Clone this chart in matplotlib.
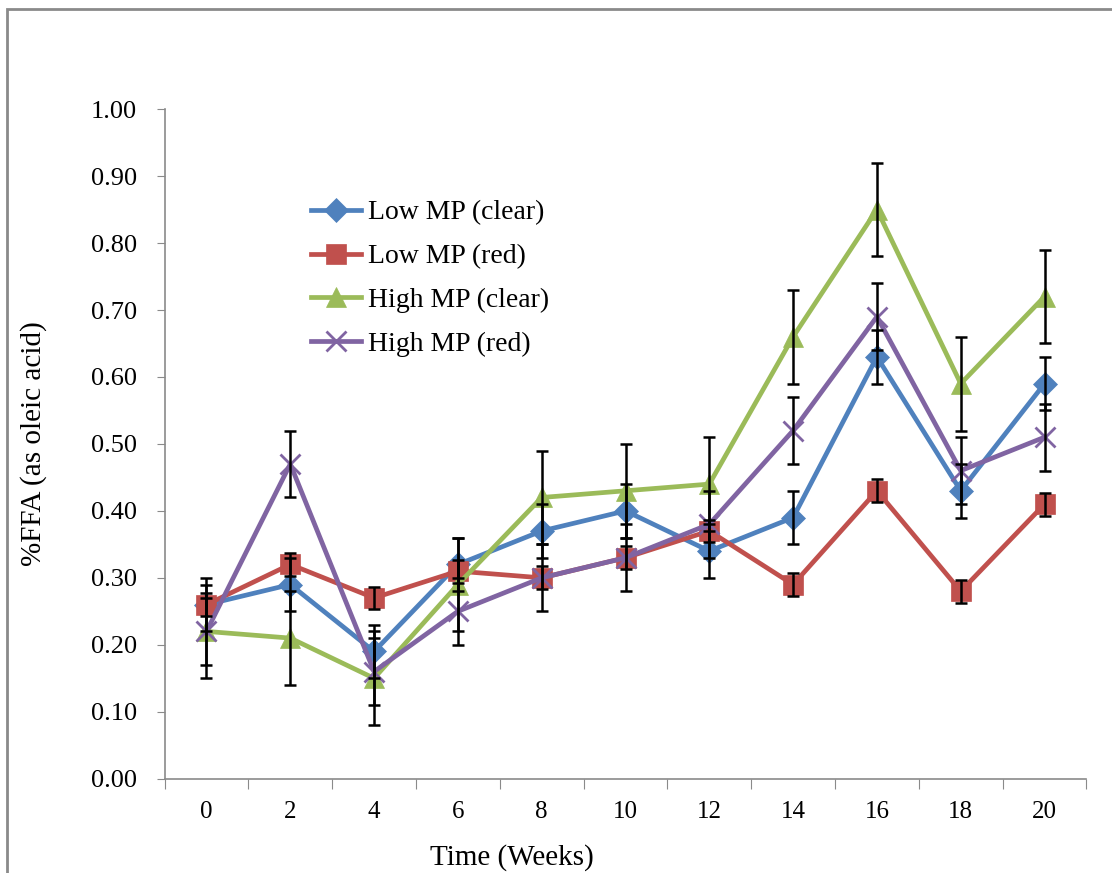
import matplotlib.pyplot as plt
import matplotlib.patches as patches
import numpy as np

weeks = [0, 2, 4, 6, 8, 10, 12, 14, 16, 18, 20]

low_clear = [0.26, 0.29, 0.19, 0.32, 0.37, 0.40, 0.34, 0.39, 0.63, 0.43, 0.59]
low_red = [0.26, 0.32, 0.27, 0.31, 0.30, 0.33, 0.37, 0.29, 0.43, 0.28, 0.41]
high_clear = [0.22, 0.21, 0.15, 0.29, 0.42, 0.43, 0.44, 0.66, 0.85, 0.59, 0.72]
high_red = [0.22, 0.47, 0.16, 0.25, 0.30, 0.33, 0.38, 0.52, 0.69, 0.46, 0.51]

err_low_clear = [0.04] * 11
err_low_red = [0.017] * 11
err_high_clear = [0.07] * 11
err_high_red = [0.05] * 11

labels = ["Low MP (clear)", "Low MP (red)", "High MP (clear)", "High MP (red)"]

plt.rcParams['font.family'] = ['Liberation Serif', 'DejaVu Serif']

fig = plt.figure(figsize=(11.12, 8.73), dpi=100)
ax = fig.add_axes([0.148, 0.108, 0.829, 0.767])

# gray frame around the chart
fig.patches.append(patches.Rectangle((7 / 1112, -0.05), 1.2, 1 - 9 / 873 + 0.05,
                                     transform=fig.transFigure, fill=False,
                                     edgecolor='#8a8a8a', linewidth=2))

x = np.arange(len(weeks))
series = [
    (low_clear, err_low_clear, '#4F81BD', 'D', 12),
    (low_red, err_low_red, '#C0504D', 's', 14),
    (high_clear, err_high_clear, '#9BBB59', '^', 15),
    (high_red, err_high_red, '#8064A2', 'x', 14),
]

handles = []
for (vals, err, col, mk, ms), lab in zip(series, labels):
    ln, = ax.plot(x, vals, color=col, linewidth=3.4, marker=mk, markersize=ms,
                  markeredgewidth=2 if mk == 'x' else 0.5, markeredgecolor=col,
                  label=lab, zorder=2)
    handles.append(ln)
for vals, err, col, mk, ms in series:
    ax.errorbar(x, vals, yerr=err, fmt='none', ecolor='black', elinewidth=1.8,
                capsize=4.5, capthick=1.8, zorder=3)

ax.set_xlim(-0.5, len(weeks) - 0.5)
ax.set_ylim(0, 1.0)
ax.set_yticks(np.arange(0, 1.01, 0.1))
ax.set_yticklabels([f"{v:.2f}" for v in np.arange(0, 1.01, 0.1)])
ax.set_xticks(np.arange(-0.5, len(weeks), 1.0))
ax.set_xticklabels([])
ax.set_xticks(x, minor=True)
ax.set_xticklabels([str(w) for w in weeks], minor=True)

for s in ['top', 'right']:
    ax.spines[s].set_visible(False)
for s in ['left', 'bottom']:
    ax.spines[s].set_color('#8a8a8a')
    ax.spines[s].set_linewidth(1.2)

ax.tick_params(axis='y', which='major', direction='out', length=6, color='#8a8a8a',
               labelsize=19, pad=14)
ax.tick_params(axis='x', which='major', direction='out', length=7, color='#8a8a8a')
ax.tick_params(axis='x', which='minor', length=0, labelsize=18, pad=16)

ax.set_ylabel("%FFA (as oleic acid)", fontsize=21)
ax.yaxis.set_label_coords(-0.128, 0.5)
ax.set_xlabel("Time (Weeks)", fontsize=21)
ax.xaxis.set_label_coords((512 - 165) / 921, -0.098)

ax.legend(handles=handles, loc='upper left', bbox_to_anchor=(0.144, 0.885),
          frameon=False, fontsize=20, handlelength=1.8, handletextpad=0.25,
          labelspacing=0.66, borderpad=0)

fig.savefig("out.png", dpi=100)
